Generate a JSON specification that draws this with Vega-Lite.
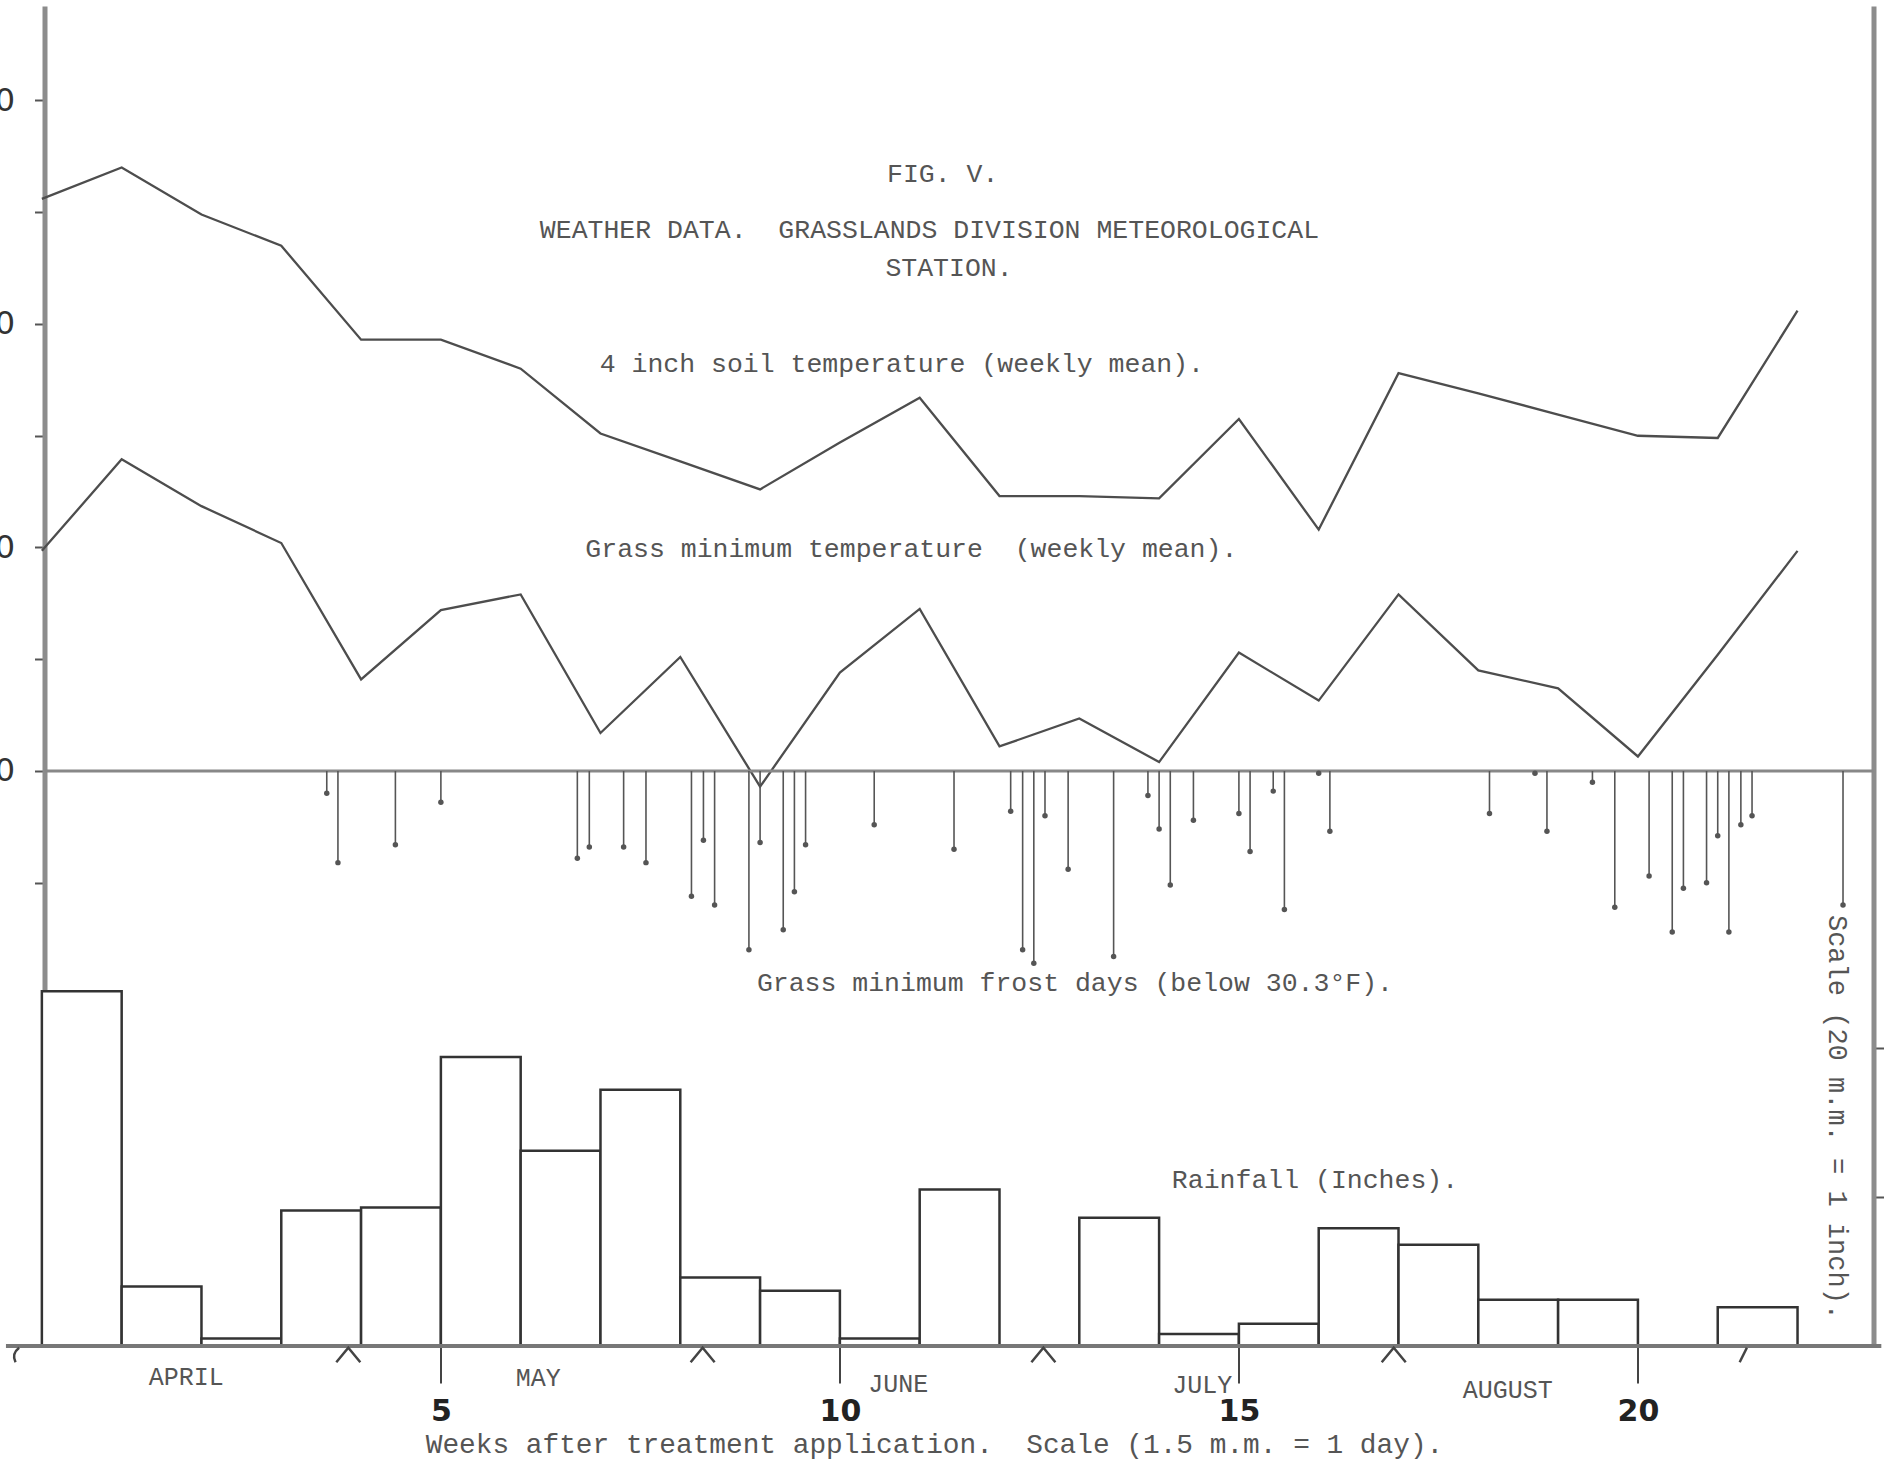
{
  "$schema": "https://vega.github.io/schema/vega-lite/v6.json",
  "width": 1829,
  "height": 1340,
  "autosize": {"type": "none"},
  "padding": {"left": 44.5, "right": 10.5, "top": 6, "bottom": 123},
  "background": "white",
  "config": {"view": {"stroke": null}, "axis": {"grid": false}},
  "datasets": {
    "rain": [
      {"week": 0, "week_end": 1, "inches": 2.38},
      {"week": 1, "week_end": 2, "inches": 0.40},
      {"week": 2, "week_end": 3, "inches": 0.05},
      {"week": 3, "week_end": 4, "inches": 0.91},
      {"week": 4, "week_end": 5, "inches": 0.93},
      {"week": 5, "week_end": 6, "inches": 1.94},
      {"week": 6, "week_end": 7, "inches": 1.31},
      {"week": 7, "week_end": 8, "inches": 1.72},
      {"week": 8, "week_end": 9, "inches": 0.46},
      {"week": 9, "week_end": 10, "inches": 0.37},
      {"week": 10, "week_end": 11, "inches": 0.05},
      {"week": 11, "week_end": 12, "inches": 1.05},
      {"week": 13, "week_end": 14, "inches": 0.86},
      {"week": 14, "week_end": 15, "inches": 0.08},
      {"week": 15, "week_end": 16, "inches": 0.15},
      {"week": 16, "week_end": 17, "inches": 0.79},
      {"week": 17, "week_end": 18, "inches": 0.68},
      {"week": 18, "week_end": 19, "inches": 0.31},
      {"week": 19, "week_end": 20, "inches": 0.31},
      {"week": 21, "week_end": 22, "inches": 0.26}
    ],
    "temps": [
      {"series": "soil", "week": 0, "temp": 55.6},
      {"series": "soil", "week": 1, "temp": 57.0},
      {"series": "soil", "week": 2, "temp": 54.9},
      {"series": "soil", "week": 3, "temp": 53.5},
      {"series": "soil", "week": 4, "temp": 49.3},
      {"series": "soil", "week": 5, "temp": 49.3},
      {"series": "soil", "week": 6, "temp": 48.0},
      {"series": "soil", "week": 7, "temp": 45.1},
      {"series": "soil", "week": 8, "temp": 43.85},
      {"series": "soil", "week": 9, "temp": 42.6},
      {"series": "soil", "week": 10, "temp": 44.7},
      {"series": "soil", "week": 11, "temp": 46.7},
      {"series": "soil", "week": 12, "temp": 42.3},
      {"series": "soil", "week": 13, "temp": 42.3},
      {"series": "soil", "week": 14, "temp": 42.2},
      {"series": "soil", "week": 15, "temp": 45.75},
      {"series": "soil", "week": 16, "temp": 40.8},
      {"series": "soil", "week": 17, "temp": 47.8},
      {"series": "soil", "week": 18, "temp": 46.9},
      {"series": "soil", "week": 19, "temp": 45.95},
      {"series": "soil", "week": 20, "temp": 45.0},
      {"series": "soil", "week": 21, "temp": 44.9},
      {"series": "soil", "week": 22, "temp": 50.6},
      {"series": "grass", "week": 0, "temp": 39.85},
      {"series": "grass", "week": 1, "temp": 43.95},
      {"series": "grass", "week": 2, "temp": 41.85},
      {"series": "grass", "week": 3, "temp": 40.2},
      {"series": "grass", "week": 4, "temp": 34.1},
      {"series": "grass", "week": 5, "temp": 37.2},
      {"series": "grass", "week": 6, "temp": 37.9},
      {"series": "grass", "week": 7, "temp": 31.7},
      {"series": "grass", "week": 8, "temp": 35.1},
      {"series": "grass", "week": 9, "temp": 29.3},
      {"series": "grass", "week": 10, "temp": 34.4},
      {"series": "grass", "week": 11, "temp": 37.25},
      {"series": "grass", "week": 12, "temp": 31.1},
      {"series": "grass", "week": 13, "temp": 32.35},
      {"series": "grass", "week": 14, "temp": 30.4},
      {"series": "grass", "week": 15, "temp": 35.3},
      {"series": "grass", "week": 16, "temp": 33.15},
      {"series": "grass", "week": 17, "temp": 37.9},
      {"series": "grass", "week": 18, "temp": 34.5},
      {"series": "grass", "week": 19, "temp": 33.7},
      {"series": "grass", "week": 20, "temp": 30.65},
      {"series": "grass", "week": 21, "temp": 35.2},
      {"series": "grass", "week": 22, "temp": 39.85}
    ],
    "frost": [
      {"week": 3.57, "temp": 29.0},
      {"week": 3.71, "temp": 25.9},
      {"week": 4.43, "temp": 26.7},
      {"week": 5.0, "temp": 28.6},
      {"week": 6.71, "temp": 26.1},
      {"week": 6.86, "temp": 26.6},
      {"week": 7.29, "temp": 26.6},
      {"week": 7.57, "temp": 25.9},
      {"week": 8.14, "temp": 24.4},
      {"week": 8.29, "temp": 26.9},
      {"week": 8.43, "temp": 24.0},
      {"week": 8.86, "temp": 22.0},
      {"week": 9.0, "temp": 26.8},
      {"week": 9.29, "temp": 22.9},
      {"week": 9.43, "temp": 24.6},
      {"week": 9.57, "temp": 26.7},
      {"week": 10.43, "temp": 27.6},
      {"week": 11.43, "temp": 26.5},
      {"week": 12.14, "temp": 28.2},
      {"week": 12.29, "temp": 22.0},
      {"week": 12.43, "temp": 21.4},
      {"week": 12.57, "temp": 28.0},
      {"week": 12.86, "temp": 25.6},
      {"week": 13.43, "temp": 21.7},
      {"week": 13.86, "temp": 28.9},
      {"week": 14.0, "temp": 27.4},
      {"week": 14.14, "temp": 24.9},
      {"week": 14.43, "temp": 27.8},
      {"week": 15.0, "temp": 28.1},
      {"week": 15.14, "temp": 26.4},
      {"week": 15.43, "temp": 29.1},
      {"week": 15.57, "temp": 23.8},
      {"week": 16.0, "temp": 29.9},
      {"week": 16.14, "temp": 27.3},
      {"week": 18.14, "temp": 28.1},
      {"week": 18.71, "temp": 29.9},
      {"week": 18.86, "temp": 27.3},
      {"week": 19.43, "temp": 29.5},
      {"week": 19.71, "temp": 23.9},
      {"week": 20.14, "temp": 25.3},
      {"week": 20.43, "temp": 22.8},
      {"week": 20.57, "temp": 24.75},
      {"week": 20.86, "temp": 25.0},
      {"week": 21.0, "temp": 27.1},
      {"week": 21.14, "temp": 22.8},
      {"week": 21.29, "temp": 27.6},
      {"week": 21.43, "temp": 28.0},
      {"week": 22.57, "temp": 24.0}
    ],
    "notes": [
      {"label": "FIG. V.", "week": 10.59, "temp": 56.71},
      {"label": "WEATHER DATA.\u00a0 GRASSLANDS DIVISION METEOROLOGICAL", "week": 6.24, "temp": 54.21},
      {"label": "STATION.", "week": 10.57, "temp": 52.51},
      {"label": "4 inch soil temperature (weekly mean).", "week": 6.99, "temp": 48.23},
      {"label": "Grass minimum temperature\u00a0 (weekly mean).", "week": 6.81, "temp": 39.93},
      {"label": "Grass minimum frost days (below 30.3°F).", "week": 8.96, "temp": 20.51},
      {"label": "Rainfall (Inches).", "week": 14.16, "temp": 11.70}
    ],
    "months": [
      {"label": "APRIL", "week": 1.81, "temp": 2.89},
      {"label": "MAY", "week": 6.22, "temp": 2.84},
      {"label": "JUNE", "week": 10.73, "temp": 2.57},
      {"label": "JULY", "week": 14.54, "temp": 2.51},
      {"label": "AUGUST", "week": 18.37, "temp": 2.30}
    ],
    "bounds": [
      {"kind": "start", "week": -0.33, "temp": 3.87},
      {"kind": "month", "week": 3.84, "temp": 3.87},
      {"kind": "month", "week": 8.28, "temp": 3.87},
      {"kind": "month", "week": 12.55, "temp": 3.87},
      {"kind": "month", "week": 16.94, "temp": 3.87},
      {"kind": "end", "week": 21.32, "temp": 3.87}
    ]
  },
  "layer": [
    {
      "data": {"name": "rain"},
      "mark": {"type": "bar", "fill": "white", "stroke": "#333333", "strokeWidth": 2.5},
      "encoding": {
        "x": {
          "field": "week", "type": "quantitative",
          "scale": {"domain": [0.033, 22.952], "nice": false, "zero": false},
          "axis": {
            "values": [5, 10, 15, 20],
            "format": "d",
            "domain": false,
            "tickSize": 37, "tickWidth": 2, "tickColor": "#444444",
            "labelFont": "DejaVu Sans", "labelFontSize": 30, "labelFontWeight": "bold",
            "labelColor": "#222222", "labelPadding": 13, "labelFlush": false,
            "title": "Weeks after treatment application.\u00a0 Scale (1.5 m.m. = 1 day).",
            "titleFont": "Liberation Mono", "titleFontSize": 27.8, "titleFontWeight": "normal",
            "titleColor": "#555555", "titleX": 889.5, "titleY": 98,
            "titleAlign": "center", "titleBaseline": "middle"
          }
        },
        "x2": {"field": "week_end"},
        "y": {
          "field": "inches", "type": "quantitative",
          "scale": {"domain": [0, 8.993], "nice": false, "zero": false},
          "axis": {
            "orient": "right",
            "values": [1, 2],
            "labels": false,
            "domainWidth": 5, "domainColor": "#8c8c8c",
            "tickSize": 10, "tickWidth": 2, "tickColor": "#555555",
            "title": "Scale (20 m.m. = 1 inch).",
            "titleFont": "Liberation Mono", "titleFontSize": 27, "titleFontWeight": "normal",
            "titleColor": "#555555", "titleAngle": 90, "titleX": -36.6, "titleY": 1111,
            "titleAlign": "center", "titleBaseline": "middle"
          }
        },
        "y2": {"datum": 0}
      }
    },
    {
      "data": {"values": [{}]},
      "mark": {"type": "rule", "stroke": "#777777", "strokeWidth": 4},
      "encoding": {
        "x": {"datum": -0.45, "type": "quantitative", "scale": {"domain": [0.033, 22.952], "nice": false, "zero": false}},
        "x2": {"datum": 23.05},
        "y": {"datum": 0, "type": "quantitative", "scale": {"domain": [0, 8.993], "nice": false, "zero": false}, "axis": null}
      }
    },
    {
      "data": {"name": "temps"},
      "mark": {"type": "line", "stroke": "#4d4d4d", "strokeWidth": 2.3},
      "encoding": {
        "x": {"field": "week", "type": "quantitative", "scale": {"domain": [0.033, 22.952], "nice": false, "zero": false}},
        "y": {
          "field": "temp", "type": "quantitative",
          "scale": {"domain": [4.273, 64.228], "nice": false, "zero": false},
          "axis": {
            "orient": "left",
            "values": [25, 30, 35, 40, 45, 50, 55, 60],
            "labelExpr": "datum.value % 10 == 0 ? datum.label : ''",
            "domainWidth": 5, "domainColor": "#8c8c8c",
            "tickSize": 10, "tickWidth": 2, "tickColor": "#555555",
            "labelFont": "DejaVu Sans", "labelFontSize": 32, "labelColor": "#333333",
            "labelPadding": 20, "labelFlush": false, "labelOverlap": false,
            "title": null
          }
        },
        "detail": {"field": "series"}
      }
    },
    {
      "data": {"values": [{}]},
      "mark": {"type": "rule", "stroke": "#888888", "strokeWidth": 3},
      "encoding": {
        "y": {"datum": 30, "type": "quantitative", "scale": {"domain": [4.273, 64.228], "nice": false, "zero": false}, "axis": null}
      }
    },
    {
      "data": {"name": "frost"},
      "mark": {"type": "rule", "stroke": "#555555", "strokeWidth": 1.6},
      "encoding": {
        "x": {"field": "week", "type": "quantitative", "scale": {"domain": [0.033, 22.952], "nice": false, "zero": false}},
        "y": {"field": "temp", "type": "quantitative", "scale": {"domain": [4.273, 64.228], "nice": false, "zero": false}, "axis": null},
        "y2": {"datum": 30}
      }
    },
    {
      "data": {"name": "frost"},
      "mark": {"type": "point", "filled": true, "shape": "circle", "size": 30, "color": "#555555", "opacity": 1},
      "encoding": {
        "x": {"field": "week", "type": "quantitative", "scale": {"domain": [0.033, 22.952], "nice": false, "zero": false}},
        "y": {"field": "temp", "type": "quantitative", "scale": {"domain": [4.273, 64.228], "nice": false, "zero": false}, "axis": null}
      }
    },
    {
      "data": {"name": "notes"},
      "mark": {"type": "text", "align": "left", "baseline": "middle", "font": "Liberation Mono", "fontSize": 26.5, "color": "#555555"},
      "encoding": {
        "x": {"field": "week", "type": "quantitative", "scale": {"domain": [0.033, 22.952], "nice": false, "zero": false}},
        "y": {"field": "temp", "type": "quantitative", "scale": {"domain": [4.273, 64.228], "nice": false, "zero": false}, "axis": null},
        "text": {"field": "label"}
      }
    },
    {
      "data": {"name": "months"},
      "mark": {"type": "text", "align": "center", "baseline": "middle", "font": "Liberation Mono", "fontSize": 25, "color": "#555555"},
      "encoding": {
        "x": {"field": "week", "type": "quantitative", "scale": {"domain": [0.033, 22.952], "nice": false, "zero": false}},
        "y": {"field": "temp", "type": "quantitative", "scale": {"domain": [4.273, 64.228], "nice": false, "zero": false}, "axis": null},
        "text": {"field": "label"}
      }
    },
    {
      "data": {"name": "bounds"},
      "mark": {"type": "point", "filled": false, "size": 576, "stroke": "#444444", "strokeWidth": 2.5, "opacity": 1},
      "encoding": {
        "x": {"field": "week", "type": "quantitative", "scale": {"domain": [0.033, 22.952], "nice": false, "zero": false}},
        "y": {"field": "temp", "type": "quantitative", "scale": {"domain": [4.273, 64.228], "nice": false, "zero": false}, "axis": null},
        "shape": {
          "field": "kind", "type": "nominal",
          "scale": {"domain": ["month", "end", "start"], "range": ["M -1 0.6 L 0 -0.6 L 1 0.6", "M -0.3 0.6 L 0.3 -0.6", "M 0.3 -0.6 Q -0.35 -0.1 0 0.6"]},
          "legend": null
        }
      }
    }
  ],
  "resolve": {"scale": {"y": "independent"}, "axis": {"y": "independent"}}
}
